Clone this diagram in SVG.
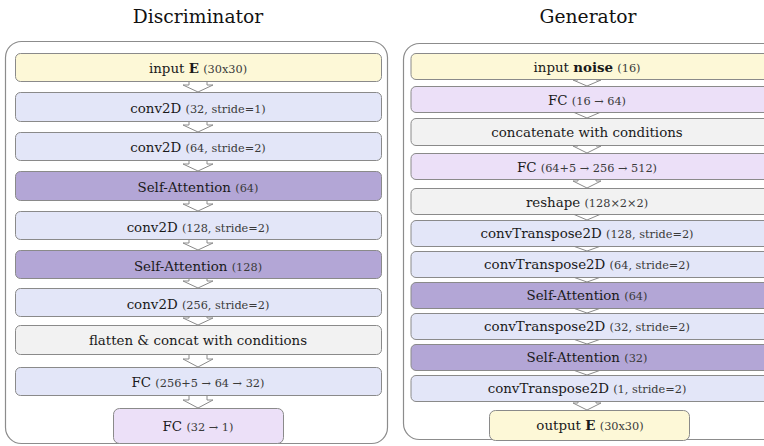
<svg xmlns="http://www.w3.org/2000/svg" width="764" height="446" viewBox="0 0 764 446">
<style>
.title{font-family:"DejaVu Serif",serif;font-size:18.7px;fill:#111;text-anchor:middle}
.outer{fill:#fff;stroke:#8c8c8c;stroke-width:1.2}
.n rect{stroke:#8a8a8a;stroke-width:1}
.t{font-family:"DejaVu Serif",serif;font-size:13.4px;fill:#1a1a1a;text-anchor:middle}
.s{font-size:11.3px;fill:#3a3a3a}
.b{font-weight:bold}
.yel{fill:#fdf8d7}
.blu{fill:#e3e6f8}
.pur{fill:#b3a6d6}
.lpu{fill:#ece0f8}
.gry{fill:#f2f2f2}
.arr{fill:#fff;stroke:#8a8a8a;stroke-width:1}
</style>
<text class="title" x="198" y="23">Discriminator</text>
<text class="title" x="588" y="23">Generator</text>
<rect class="outer" x="5.5" y="41.5" width="382" height="402" rx="16"/>
<rect class="outer" x="403.5" y="43.5" width="380" height="396" rx="16"/>
<g id="connectors">
<path class="arr" d="M189,79 H207 V85 H213 L198,92 L183,85 H189 Z"/>
<path class="arr" d="M189,119 H207 V125 H213 L198,132 L183,125 H189 Z"/>
<path class="arr" d="M189,158 H207 V164 H213 L198,171 L183,164 H189 Z"/>
<path class="arr" d="M189,198 H207 V204 H213 L198,211 L183,204 H189 Z"/>
<path class="arr" d="M189,237 H207 V243 H213 L198,250 L183,243 H189 Z"/>
<path class="arr" d="M189,276 H207 V281 H213 L198,288 L183,281 H189 Z"/>
<path class="arr" d="M189,314 H207 V318 H213 L198,325 L183,318 H189 Z"/>
<path class="arr" d="M189,352 H207 V359 H213 L198,367 L183,359 H189 Z"/>
<path class="arr" d="M189,393 H207 V400 H213 L198,408 L183,400 H189 Z"/>
<path class="arr" d="M578,76 H596 V80 H601 L587,86 L573,80 H578 Z"/>
<path class="arr" d="M578,109 H596 V112 H601 L587,118 L573,112 H578 Z"/>
<path class="arr" d="M578,142 H596 V146 H601 L587,153 L573,146 H578 Z"/>
<path class="arr" d="M578,176 H596 V181 H601 L587,188 L573,181 H578 Z"/>
<path class="arr" d="M578,211 H596 V214 H601 L587,220 L573,214 H578 Z"/>
<path class="arr" d="M578,243 H596 V246 H601 L587,251 L573,246 H578 Z"/>
<path class="arr" d="M578,274 H596 V277 H601 L587,282 L573,277 H578 Z"/>
<path class="arr" d="M578,305 H596 V308 H601 L587,313 L573,308 H578 Z"/>
<path class="arr" d="M578,336 H596 V339 H601 L587,344 L573,339 H578 Z"/>
<path class="arr" d="M578,367 H596 V370 H601 L587,375 L573,370 H578 Z"/>
<path class="arr" d="M578,398 H596 V403 H601 L587,410 L573,403 H578 Z"/>
</g>
<g id="d1" class="n"><rect class="yel" x="15.5" y="53.5" width="366" height="28" rx="5"/><text class="t" x="198" y="73">input <tspan class="b">E</tspan> <tspan class="s">(30x30)</tspan></text></g>
<g id="d2" class="n"><rect class="blu" x="15.5" y="92.5" width="366" height="29" rx="5"/><text class="t" x="198" y="113">conv2D <tspan class="s">(32, stride=1)</tspan></text></g>
<g id="d3" class="n"><rect class="blu" x="15.5" y="132.5" width="366" height="28" rx="5"/><text class="t" x="198" y="152">conv2D <tspan class="s">(64, stride=2)</tspan></text></g>
<g id="d4" class="n"><rect class="pur" x="15.5" y="171.5" width="366" height="29" rx="5"/><text class="t" x="198" y="192">Self-Attention <tspan class="s">(64)</tspan></text></g>
<g id="d5" class="n"><rect class="blu" x="15.5" y="211.5" width="366" height="28" rx="5"/><text class="t" x="198" y="232">conv2D <tspan class="s">(128, stride=2)</tspan></text></g>
<g id="d6" class="n"><rect class="pur" x="15.5" y="250.5" width="366" height="28" rx="5"/><text class="t" x="198" y="271">Self-Attention <tspan class="s">(128)</tspan></text></g>
<g id="d7" class="n"><rect class="blu" x="15.5" y="288.5" width="366" height="28" rx="5"/><text class="t" x="198" y="309">conv2D <tspan class="s">(256, stride=2)</tspan></text></g>
<g id="d8" class="n"><rect class="gry" x="15.5" y="325.5" width="366" height="29" rx="5"/><text class="t" x="198" y="345">flatten &amp; concat with conditions</text></g>
<g id="d9" class="n"><rect class="blu" x="15.5" y="367.5" width="366" height="28" rx="5"/><text class="t" x="198" y="387">FC <tspan class="s">(256+5 → 64 → 32)</tspan></text></g>
<g id="d10" class="n"><rect class="lpu" x="113.5" y="408.5" width="170" height="35" rx="6"/><text class="t" x="198" y="431">FC <tspan class="s">(32 → 1)</tspan></text></g>
<g id="g1" class="n"><rect class="yel" x="411" y="53.5" width="360" height="26" rx="5"/><text class="t" x="587" y="72">input <tspan class="b">noise</tspan> <tspan class="s">(16)</tspan></text></g>
<g id="g2" class="n"><rect class="lpu" x="411" y="86.5" width="360" height="26" rx="5"/><text class="t" x="587" y="105">FC <tspan class="s">(16 → 64)</tspan></text></g>
<g id="g3" class="n"><rect class="gry" x="411" y="118.5" width="360" height="27" rx="5"/><text class="t" x="587" y="137">concatenate with conditions</text></g>
<g id="g4" class="n"><rect class="lpu" x="411" y="153.5" width="360" height="26" rx="5"/><text class="t" x="587" y="172">FC <tspan class="s">(64+5 → 256 → 512)</tspan></text></g>
<g id="g5" class="n"><rect class="gry" x="411" y="188.5" width="360" height="26" rx="5"/><text class="t" x="587" y="207">reshape <tspan class="s">(128×2×2)</tspan></text></g>
<g id="g6" class="n"><rect class="blu" x="411" y="220.5" width="360" height="26" rx="5"/><text class="t" x="587" y="238">convTranspose2D <tspan class="s">(128, stride=2)</tspan></text></g>
<g id="g7" class="n"><rect class="blu" x="411" y="251.5" width="360" height="26" rx="5"/><text class="t" x="587" y="269">convTranspose2D <tspan class="s">(64, stride=2)</tspan></text></g>
<g id="g8" class="n"><rect class="pur" x="411" y="282.5" width="360" height="26" rx="5"/><text class="t" x="587" y="300">Self-Attention <tspan class="s">(64)</tspan></text></g>
<g id="g9" class="n"><rect class="blu" x="411" y="313.5" width="360" height="26" rx="5"/><text class="t" x="587" y="331">convTranspose2D <tspan class="s">(32, stride=2)</tspan></text></g>
<g id="g10" class="n"><rect class="pur" x="411" y="344.5" width="360" height="26" rx="5"/><text class="t" x="587" y="362">Self-Attention <tspan class="s">(32)</tspan></text></g>
<g id="g11" class="n"><rect class="blu" x="411" y="375.5" width="360" height="26" rx="5"/><text class="t" x="587" y="393">convTranspose2D <tspan class="s">(1, stride=2)</tspan></text></g>
<g id="g12" class="n"><rect class="yel" x="489.5" y="410.5" width="200" height="30" rx="6"/><text class="t" x="590" y="430">output <tspan class="b">E</tspan> <tspan class="s">(30x30)</tspan></text></g>
</svg>
